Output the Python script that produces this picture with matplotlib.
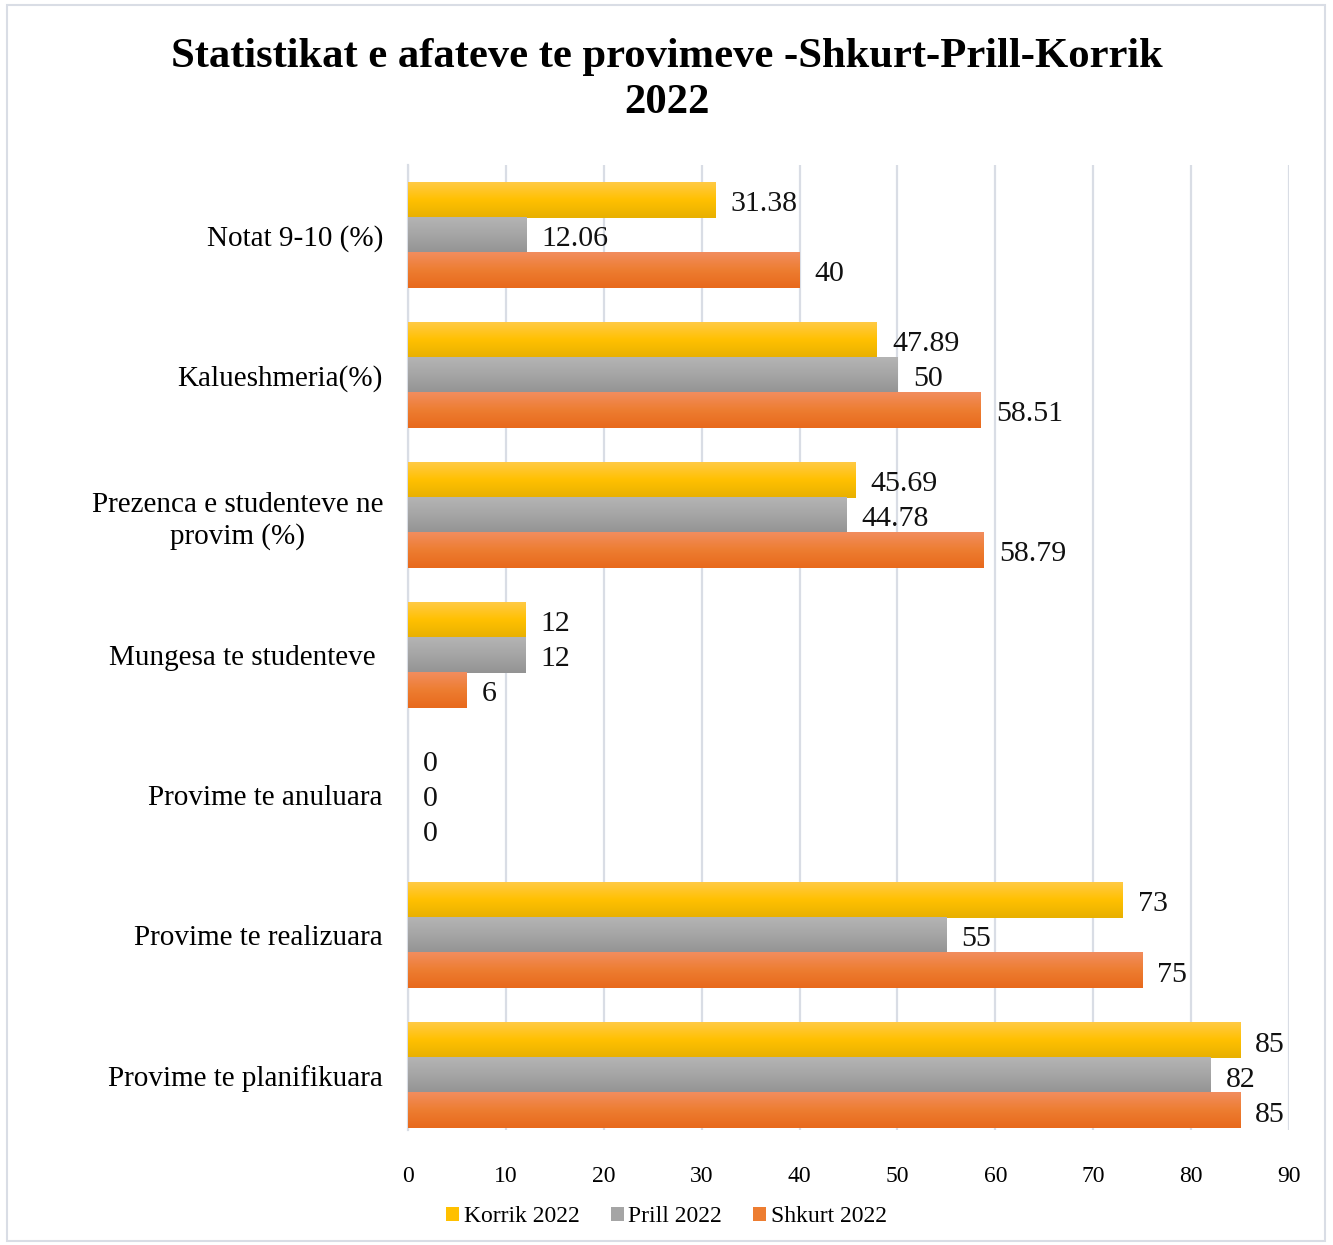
import numpy as np
import matplotlib
matplotlib.use('Agg')
import matplotlib.pyplot as plt
from matplotlib.colors import LinearSegmentedColormap
from matplotlib.patches import Patch, Rectangle

############################################################
# Data (bottom to top as drawn)

categories = ['Provime te planifikuara', 'Provime te realizuara', 'Provime te anuluara',
              'Mungesa te studenteve ', 'Prezenca e studenteve ne\nprovim (%)',
              'Kalueshmeria(%)', 'Notat 9-10 (%)']
korrik = [85, 73, 0, 12, 45.69, 47.89, 31.38]
prill = [82, 55, 0, 12, 44.78, 50, 12.06]
shkurt = [85, 75, 0, 6, 58.79, 58.51, 40]

series = ['Korrik 2022', 'Prill 2022', 'Shkurt 2022']
values = [korrik, prill, shkurt]
labels_txt = [['85', '73', '0', '12', '45.69', '47.89', '31.38'],
              ['82', '55', '0', '12', '44.78', '50', '12.06'],
              ['85', '75', '0', '6', '58.79', '58.51', '40']]

# gradient top / bottom colours
grads = [('#FFCA45', '#E8B000'), ('#B4B4B4', '#939393'), ('#F28D5E', '#E8691C')]
solid = ['#FFC000', '#A5A5A5', '#ED7D31']

############################################################
# Plotting

plt.rcParams['font.family'] = 'Liberation Serif'

fig = plt.figure(figsize=(13.33, 12.45), dpi=100)
ax = fig.add_axes([408 / 1333, 1 - 1130 / 1245, (1289 - 408) / 1333, (1130 - 165) / 1245])

bh = 0.25
offsets = [bh, 0, -bh]
y = np.arange(len(categories))

for k in range(3):
    cmap = LinearSegmentedColormap.from_list('g%d' % k, [grads[k][0], solid[k], grads[k][1]])
    grad = np.linspace(0, 1, 64).reshape(-1, 1)
    for i, v in enumerate(values[k]):
        yc = y[i] + offsets[k]
        if v > 0:
            ax.imshow(grad, cmap=cmap, aspect='auto', origin='upper',
                      extent=[0, v, yc - bh / 2, yc + bh / 2], zorder=3,
                      interpolation='bilinear')
        ax.annotate(labels_txt[k][i], (v, yc), xytext=(11, -3), textcoords='offset points',
                    va='center', ha='left', fontsize=21.5, color='#111111')

ax.set_xlim(0, 90)
ax.set_ylim(-0.39, 6.5)
ax.set_xticks(range(0, 91, 10))
ax.set_yticks(y)
ax.set_yticklabels(categories, fontsize=21, multialignment='center', linespacing=1.25)
ax.tick_params(axis='x', labelsize=17, length=0, pad=26)
ax.tick_params(axis='y', length=0, pad=18)
ax.grid(axis='x', color='#D9DDE5', linewidth=1.6, zorder=0)
ax.set_axisbelow(True)
for s in ['top', 'right', 'bottom']:
    ax.spines[s].set_visible(False)
ax.spines['left'].set_color('#D9DDE5')
ax.spines['left'].set_linewidth(1.6)

fig.text(0.5, 1 - 80 / 1245, 'Statistikat e afateve te provimeve -Shkurt-Prill-Korrik\n2022',
         ha='center', va='center', fontsize=30.7, fontweight='bold', linespacing=1.25)

handles = [Patch(facecolor=c) for c in solid]
fig.legend(handles, series, loc='center', bbox_to_anchor=(0.5, 1 - 1217 / 1245), ncol=3,
           frameon=False, fontsize=17, handlelength=0.55, handleheight=0.55,
           handletextpad=0.2, columnspacing=1.3)

fig.patches.append(Rectangle((7 / 1333, 4 / 1245), 1318 / 1333, 1236 / 1245,
                             transform=fig.transFigure, fill=False,
                             edgecolor='#D9DDE5', linewidth=1.5))

plt.savefig('out.png', dpi=100, facecolor='white')
